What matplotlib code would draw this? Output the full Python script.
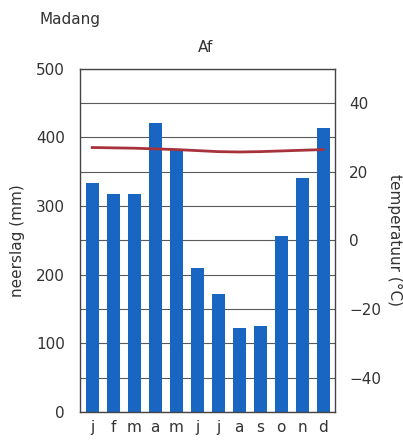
import numpy as np
import matplotlib
matplotlib.use('Agg')
import matplotlib.pyplot as plt

plt.rcParams['font.family'] = ['DejaVu Sans']

months = ['j', 'f', 'm', 'a', 'm', 'j', 'j', 'a', 's', 'o', 'n', 'd']
precip = [333, 317, 318, 420, 382, 210, 172, 122, 125, 256, 341, 414]
temp = [27.0, 26.9, 26.8, 26.6, 26.4, 26.1, 25.8, 25.7, 25.8, 26.0, 26.2, 26.4]

fig = plt.figure(figsize=(4.03, 4.44), dpi=100)
ax = fig.add_axes([0.1985, 0.0721, 0.633, 0.7736])
x = np.arange(len(months))

ax.set_axisbelow(True)
ax.yaxis.grid(True, color='#5a5a5a', linewidth=0.8)
ax.bar(x, precip, width=0.63, color='#1866c2', zorder=2)
ax.set_xlim(-0.58, 11.57)
ax.set_ylim(0, 500)
ax.set_yticks(np.arange(0, 501, 50))
ax.set_yticklabels([str(v) if v % 100 == 0 else '' for v in range(0, 501, 50)])
ax.set_xticks(x)
ax.set_xticklabels(months)
ax.tick_params(axis='both', length=0, labelsize=11, colors='#333333')
ax.tick_params(axis='y', pad=11)
ax.tick_params(axis='x', pad=6)
for s in ax.spines.values():
    s.set_color('#444444')
    s.set_linewidth(1.0)
ax.set_ylabel('neerslag (mm)', fontsize=11, color='#333333', labelpad=8)

ax2 = ax.twinx()
ax2.set_ylim(-50, 50)
ax2.plot(x, temp, color='#a8323c', linewidth=2, zorder=3)
ax2.set_yticks([-40, -20, 0, 20, 40])
ax2.set_yticklabels(['\u221240', '\u221220', '0', '20', '40'])
ax2.tick_params(axis='y', length=0, labelsize=11, colors='#333333', pad=10)
for s in ax2.spines.values():
    s.set_visible(False)
ax2.set_ylabel('temperatuur (\u00b0C)', fontsize=11, color='#333333',
               rotation=270, labelpad=15)

fig.text(0.099, 0.955, 'Madang', fontsize=11, color='#333333', va='center')
fig.text(0.51, 0.893, 'Af', fontsize=11, color='#333333', ha='center', va='center')

fig.savefig('out.png', dpi=100)
